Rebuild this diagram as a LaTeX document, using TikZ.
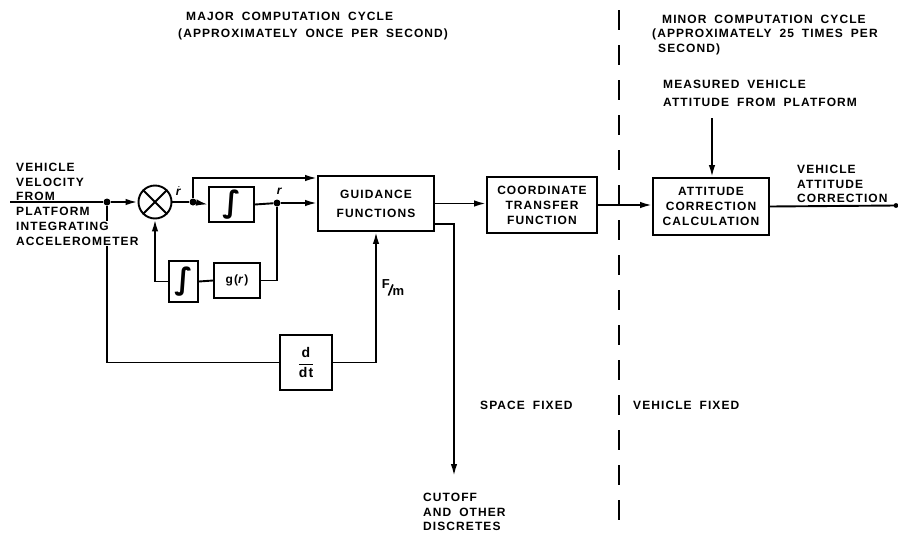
\documentclass[tikz,border=0pt]{standalone}
\usepackage{graphicx}
\usepackage{fontspec}
\setmainfont{Liberation Sans}
\newfontfamily\labfont{Liberation Sans}[LetterSpace=9,WordSpace=1.8]
\newfontfamily\intfont{DejaVu Sans}
\usetikzlibrary{arrows.meta}
\begin{document}
\begin{tikzpicture}[x=1pt,y=-1pt,
  ln/.style={line width=1.9pt},
  arr/.style={ln,-{Latex[length=12pt,width=6.5pt]}},
  blk/.style={draw,line width=1.9pt,inner sep=0pt,align=center,font=\labfont\bfseries\fontsize{12}{15}\selectfont},
  lab/.style={inner sep=0pt,anchor=north west,align=left,font=\labfont\bfseries\fontsize{12}{14.5}\selectfont},
  jdot/.style={circle,fill,inner sep=0pt,minimum size=7pt},
  vdash/.style={line width=1.9pt,dash pattern=on 20pt off 15pt},
]
\useasboundingbox (0,0) rectangle (898,536);
\fill[white] (0,0) rectangle (898,536);

% blocks
\node[blk,minimum width=45pt,minimum height=35pt] (int1) at (231.5,204.5) {\intfont\bfseries\fontsize{30}{30}\selectfont ∫};
\node[blk,minimum width=29pt,minimum height=41pt] (int2) at (183.5,281.5) {\intfont\bfseries\fontsize{30}{30}\selectfont ∫};
\node[blk,minimum width=46pt,minimum height=35pt] (gfun) at (237,280.5) {g(\textit{r})};
\node[blk,minimum width=52pt,minimum height=55pt,font=\labfont\bfseries\fontsize{14}{16}\selectfont] (ddt) at (306,362.5) {$\displaystyle\frac{\mbox{d}}{\mbox{dt}}$};
\node[draw,circle,ln,minimum size=33pt,inner sep=0pt] (sum) at (155,202) {};
\draw[ln] (sum.north west) -- (sum.south east) (sum.north east) -- (sum.south west);
\node[blk,minimum width=116pt,minimum height=55pt] (guid) at (376,203.5) {GUIDANCE\\[4pt]FUNCTIONS};
\node[blk,minimum width=110pt,minimum height=56pt] (coord) at (542,205) {COORDINATE\\TRANSFER\\FUNCTION};
\node[blk,minimum width=116pt,minimum height=57pt] (att) at (711,206.5) {ATTITUDE\\CORRECTION\\CALCULATION};

% junction dots and coordinates
\node[jdot] (j1) at (107,202) {};
\node[jdot] (j2) at (193,202) {};
\node[jdot] (j3) at (277,203) {};
\coordinate (in) at (10,202);
\coordinate (t178) at (0,178);
\coordinate (t224) at (0,224);
\coordinate (cut) at (454,476);
\coordinate (meas) at (712,118);
\coordinate (outend) at (896,205.5);
\coordinate (dtop) at (619,10);
\coordinate (dbot) at (619,526);

% connectors
\draw[ln] (in) -- (j1);
\draw[arr] (j1) -- (sum.west);
\draw[ln] (sum.east) -- (j2);
\draw[arr] (j2) -- (int1.west);
\draw[arr] (j2) |- (guid.west |- t178);
\draw[ln] (int1.east) -- (j3);
\draw[arr] (j3) -- (guid.west |- j3);
\draw[ln] (j3) |- (gfun.east);
\draw[ln] (gfun.west) -- (int2.east);
\draw[arr] (int2.west) -| (sum.south);
\draw[ln] (j1) |- (ddt.west);
\draw[arr] (ddt.east) -| (guid.south);
\draw[arr] (guid.east) -- (coord.west |- guid.east);
\draw[arr] (guid.east |- t224) -| (cut);
\draw[arr] (coord.east) -- (att.west |- coord.east);
\draw[ln] (att.east) -- (outend);
\fill (outend) circle (2.4pt);
\draw[arr] (meas) -- (att.north -| meas);
\draw[vdash] (dtop) -- (dbot);

% labels
\node[font=\labfont\bfseries\fontsize{12}{12}\selectfont] (rdot) at (179,191) {$\dot{\mbox{\textit{r}}}$};
\node[font=\labfont\bfseries\fontsize{12}{12}\selectfont] (rlab) at (280,191) {\textit{r}};
\node[font=\labfont\bfseries\fontsize{13}{14}\selectfont,inner sep=0pt] (fm) at (393,288) {\raisebox{3.5pt}{F}\kern-2pt\rotatebox{-22}{\rule[-3pt]{1.6pt}{12pt}}\kern-1pt\raisebox{-3.5pt}{m}};

\node[lab] (vin1) at (16,163) {VEHICLE\\VELOCITY\\FROM};
\node[lab] (vin2) at (16,207) {PLATFORM};
\node[lab,fill=white,inner sep=1pt] (vin3) at (15,221) {INTEGRATING\\ACCELEROMETER};

\node[lab] (maj1) at (186,12) {MAJOR COMPUTATION CYCLE};
\node[lab] (maj2) at (178,29) {(APPROXIMATELY ONCE PER SECOND)};
\node[lab] (min1) at (662,15) {MINOR COMPUTATION CYCLE};
\node[lab] (min2) at (652,29) {(APPROXIMATELY 25 TIMES PER};
\node[lab] (min3) at (658,44) {SECOND)};
\node[lab] (mv) at (663,80) {MEASURED VEHICLE\\[3pt]ATTITUDE FROM PLATFORM};
\node[lab] (vac) at (797,165) {VEHICLE\\ATTITUDE\\CORRECTION};
\node[lab] (sf) at (480,401) {SPACE FIXED};
\node[lab] (vf) at (633,401) {VEHICLE FIXED};
\node[lab] (co) at (423,493) {CUTOFF\\AND OTHER\\DISCRETES};
\end{tikzpicture}
\end{document}
